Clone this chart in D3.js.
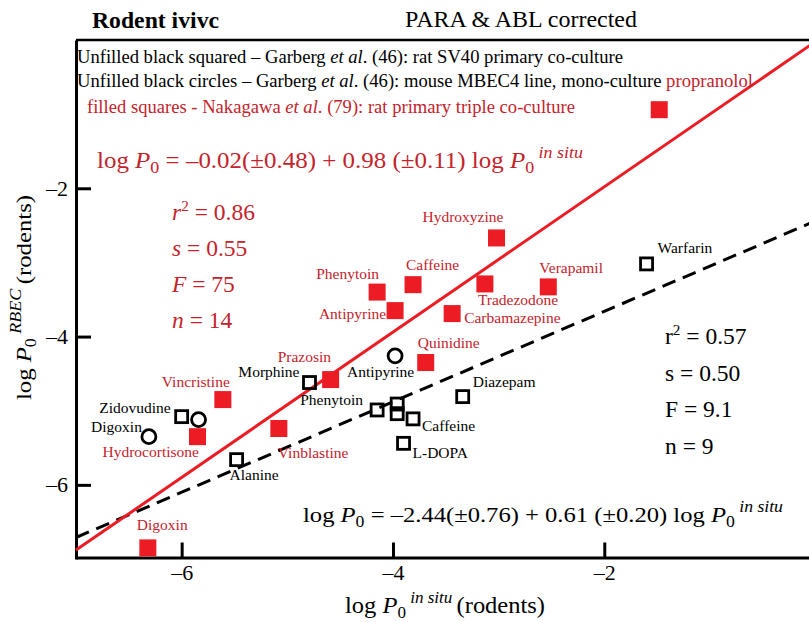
<!DOCTYPE html>
<html><head><meta charset="utf-8">
<script src="https://cdn.jsdelivr.net/npm/d3@7"></script>
<style>
html,body{margin:0;padding:0;background:#fff;}
svg{display:block;font-family:"Liberation Serif","Times New Roman",serif;}
</style></head>
<body>
<svg id="chart" width="809" height="622"></svg>
<script>
// ---------- data ----------
const xTicks = [-6, -4, -2];
const yTicks = [-2, -4, -6];
// Nakagawa et al. (79): rat primary triple co-culture (filled red squares)
const nakagawa = [
  {name: "propranolol", x: -1.48, y: -0.94},
  {name: "Hydroxyzine", x: -3.02, y: -2.67},
  {name: "Caffeine", x: -3.81, y: -3.30},
  {name: "Phenytoin", x: -4.15, y: -3.40},
  {name: "Antipyrine", x: -3.98, y: -3.65},
  {name: "Carbamazepine", x: -3.44, y: -3.69},
  {name: "Tradezodone", x: -3.13, y: -3.29},
  {name: "Verapamil", x: -2.53, y: -3.33},
  {name: "Quinidine", x: -3.69, y: -4.35},
  {name: "Prazosin", x: -4.59, y: -4.58},
  {name: "Vincristine", x: -5.61, y: -4.85},
  {name: "Hydrocortisone", x: -5.85, y: -5.35},
  {name: "Vinblastine", x: -5.08, y: -5.24},
  {name: "Digoxin", x: -6.32, y: -6.85}
];
// Garberg et al. (46): rat SV40 primary co-culture (open black squares)
const garbergSquares = [
  {name: "Warfarin", x: -1.60, y: -3.02},
  {name: "Diazepam", x: -3.34, y: -4.81},
  {name: "Caffeine", x: -3.81, y: -5.11},
  {name: "L-DOPA", x: -3.90, y: -5.44},
  {name: "", x: -3.96, y: -4.91},
  {name: "", x: -3.96, y: -5.04},
  {name: "Phenytoin", x: -4.15, y: -4.99},
  {name: "Morphine", x: -4.79, y: -4.62},
  {name: "Zidovudine", x: -6.00, y: -5.08},
  {name: "Alanine", x: -5.48, y: -5.66}
];
// Garberg et al. (46): mouse MBEC4 line (open black circles)
const garbergCircles = [
  {name: "Antipyrine", x: -3.98, y: -4.26},
  {name: "", x: -5.84, y: -5.12},
  {name: "Digoxin", x: -6.31, y: -5.35}
];
// regression fits: [intercept, slope]
const fitRed = [-0.02, 0.98];
const fitBlack = [-2.44, 0.61];
const statsRed = [["r", "2", "0.86"], ["s", "", "0.55"], ["F", "", "75"], ["n", "", "14"]];
const statsBlack = [["r", "2", "0.57"], ["s", "", "0.50"], ["F", "", "9.1"], ["n", "", "9"]];

// ---------- layout (label offsets in px, anchor) ----------
const redLabelPos = {
  "Hydroxyzine": [-74, -16, "start"], "Caffeine": [-7, -15, "start"],
  "Phenytoin": [2, -13, "end"], "Antipyrine": [-9, 8, "end"],
  "Carbamazepine": [12, 9, "start"], "Tradezodone": [-7, 21, "start"],
  "Verapamil": [-9, -14, "start"], "Quinidine": [-8, -15, "start"],
  "Prazosin": [-53, -18, "start"], "Vincristine": [-61, -13, "start"],
  "Hydrocortisone": [-95, 20, "start"], "Vinblastine": [-1, 29, "start"],
  "Digoxin": [-11, -18, "start"]
};
const blackLabelPos = {
  "Warfarin": [11, -11, "start"], "Diazepam": [10, -10, "start"],
  "Caffeine": [9, 12, "start"], "L-DOPA": [9, 15, "start"],
  "Phenytoin": [-14, -5, "end"], "Morphine": [-10, -6, "end"],
  "Zidovudine": [-11, -4, "end"], "Alanine": [-7, 20, "start"],
  "Antipyrine": [-48, 21, "start"], "Digoxin": [-7, -5, "end"]
};

const RED = "#ec1c24", RED_TXT = "#c4232b";
const svg = d3.select("#chart");
const x = d3.scaleLinear().domain([-7, 0]).range([76, 815.6]);
const y = d3.scaleLinear().domain([-7, 0]).range([559, 40]);

// axes
const fmt = d => "\u2013" + Math.abs(d);
const gx = svg.append("g").attr("transform", `translate(0,${y(-7)-1.5})`)
  .call(d3.axisBottom(x).tickValues(xTicks).tickSizeInner(-15).tickSizeOuter(0).tickPadding(7).tickFormat(fmt));
const gy = svg.append("g").attr("transform", `translate(${x(-7)},0)`)
  .call(d3.axisLeft(y).tickValues(yTicks).tickSizeInner(-15).tickSizeOuter(0).tickPadding(8).tickFormat(fmt));
[gx, gy].forEach(g => {
  g.selectAll("path.domain").attr("stroke", "#000").attr("stroke-width", 3);
  g.selectAll(".tick line").attr("stroke", "#000").attr("stroke-width", 3);
  g.selectAll(".tick text").attr("font-family", "Liberation Serif").attr("font-size", 22).attr("fill", "#000");
});
// top frame line
svg.append("line").attr("x1", x(-7)).attr("x2", 809).attr("y1", y(0)).attr("y2", y(0))
  .attr("stroke", "#000").attr("stroke-width", 2.5);

// fit lines
function fitPts(f) { return [-7, 0].map(v => [v, f[0] + f[1] * v]); }
const line = d3.line().x(d => x(d[0])).y(d => y(d[1]));
svg.append("path").attr("d", line(fitPts(fitBlack)))
  .attr("stroke", "#000").attr("stroke-width", 3).attr("stroke-dasharray", "14,8").attr("fill", "none");
svg.append("path").attr("d", line(fitPts(fitRed)))
  .attr("stroke", RED).attr("stroke-width", 3).attr("fill", "none");

// markers
svg.append("g").selectAll("rect").data(garbergSquares).join("rect")
  .attr("x", d => x(d.x) - 6).attr("y", d => y(d.y) - 6).attr("width", 12).attr("height", 12)
  .attr("fill", "none").attr("stroke", "#000").attr("stroke-width", 2.8);
svg.append("g").selectAll("circle").data(garbergCircles).join("circle")
  .attr("cx", d => x(d.x)).attr("cy", d => y(d.y)).attr("r", 7)
  .attr("fill", "none").attr("stroke", "#000").attr("stroke-width", 2.8);
svg.append("g").selectAll("rect").data(nakagawa).join("rect")
  .attr("x", d => x(d.x) - 8.5).attr("y", d => y(d.y) - 8.5).attr("width", 17).attr("height", 17)
  .attr("fill", RED);

// point labels
function labels(data, pos, color) {
  svg.append("g").selectAll("text").data(data.filter(d => pos[d.name])).join("text")
    .attr("x", d => x(d.x) + pos[d.name][0]).attr("y", d => y(d.y) + pos[d.name][1])
    .attr("text-anchor", d => pos[d.name][2])
    .attr("font-size", 15.5).attr("fill", color).text(d => d.name);
}
labels(nakagawa, redLabelPos, RED_TXT);
labels(garbergSquares.concat(garbergCircles), blackLabelPos, "#000");

function fit(t, len) { t.attr("textLength", len).attr("lengthAdjust", "spacingAndGlyphs"); }

// titles
fit(svg.append("text").attr("x", 92).attr("y", 28).attr("font-size", 23).attr("font-weight", "bold").text("Rodent ivivc"), 127);
fit(svg.append("text").attr("x", 405).attr("y", 27).attr("font-size", 23).text("PARA & ABL corrected"), 232);

// legend text
const l1 = svg.append("text").attr("x", 77).attr("y", 63).attr("font-size", 18);
l1.append("tspan").text("Unfilled black squared \u2013 Garberg ");
l1.append("tspan").attr("font-style", "italic").text("et al");
l1.append("tspan").text(". (46): rat SV40 primary co-culture");
fit(l1, 546);
const l2 = svg.append("text").attr("x", 77).attr("y", 87).attr("font-size", 18);
l2.append("tspan").text("Unfilled black circles \u2013 Garberg ");
l2.append("tspan").attr("font-style", "italic").text("et al");
l2.append("tspan").text(". (46): mouse MBEC4 line, mono-culture ");
l2.append("tspan").attr("fill", RED_TXT).text(nakagawa[0].name);
fit(l2, 676);
const l3 = svg.append("text").attr("x", 87).attr("y", 113).attr("font-size", 18).attr("fill", RED_TXT);
l3.append("tspan").text("filled squares - Nakagawa ");
l3.append("tspan").attr("font-style", "italic").text("et al");
l3.append("tspan").text(". (79): rat primary triple co-culture");
fit(l3, 488);

// equations
function equation(xp, yp, f, errs, color, size, len) {
  const t = svg.append("text").attr("x", xp).attr("y", yp).attr("font-size", size).attr("fill", color);
  const a = f[0] < 0 ? "\u2013" + Math.abs(f[0]).toFixed(2) : f[0].toFixed(2);
  t.append("tspan").text("log ");
  t.append("tspan").attr("font-style", "italic").text("P");
  t.append("tspan").attr("font-size", size * 0.72).attr("dy", 5).text("0");
  t.append("tspan").attr("dy", -5).text(" = " + a + "(\u00b1" + errs[0] + ") + " + f[1].toFixed(2) + " (\u00b1" + errs[1] + ") log ");
  t.append("tspan").attr("font-style", "italic").text("P");
  t.append("tspan").attr("font-size", size * 0.72).attr("dy", 5).text("0");
  t.append("tspan").attr("font-size", size * 0.72).attr("font-style", "italic").attr("dy", -15).text(" in situ");
  fit(t, len);
}
equation(97, 168, fitRed, ["0.48", "0.11"], RED_TXT, 22.5, 486);
equation(303, 522, fitBlack, ["0.76", "0.20"], "#000", 22, 480);

// stats
function stats(arr, xp, y0, step, color, italic, size) {
  arr.forEach((s, i) => {
    const t = svg.append("text").attr("x", xp).attr("y", y0 + i * step).attr("font-size", size).attr("fill", color);
    t.append("tspan").attr("font-style", italic ? "italic" : "normal").text(s[0]);
    if (s[1]) { t.append("tspan").attr("font-size", size * 0.65).attr("dy", -9).text(s[1]); t.append("tspan").attr("dy", 9).text(" = " + s[2]); }
    else t.append("tspan").text(" = " + s[2]);
  });
}
stats(statsRed, 172, 220, 36, RED_TXT, true, 23.5);
stats(statsBlack, 665, 344, 36.7, "#000", false, 23.5);

// axis titles
const xt = svg.append("text").attr("x", 345).attr("y", 613).attr("font-size", 23);
xt.append("tspan").text("log ");
xt.append("tspan").attr("font-style", "italic").text("P");
xt.append("tspan").attr("font-size", 16).attr("dy", 5).text("0");
xt.append("tspan").attr("font-size", 16).attr("font-style", "italic").attr("dy", -15).text(" in situ ");
xt.append("tspan").attr("dy", 10).text("(rodents)");
fit(xt, 200);
const yt = svg.append("text").attr("transform", "translate(31,400) rotate(-90)").attr("font-size", 22);
yt.append("tspan").text("log ");
yt.append("tspan").attr("font-style", "italic").text("P");
yt.append("tspan").attr("font-size", 16).attr("dy", 5).text("0");
yt.append("tspan").attr("font-size", 16).attr("font-style", "italic").attr("dy", -15).text(" RBEC ");
yt.append("tspan").attr("dy", 10).text("(rodents)");
fit(yt, 205);
</script>
</body></html>
